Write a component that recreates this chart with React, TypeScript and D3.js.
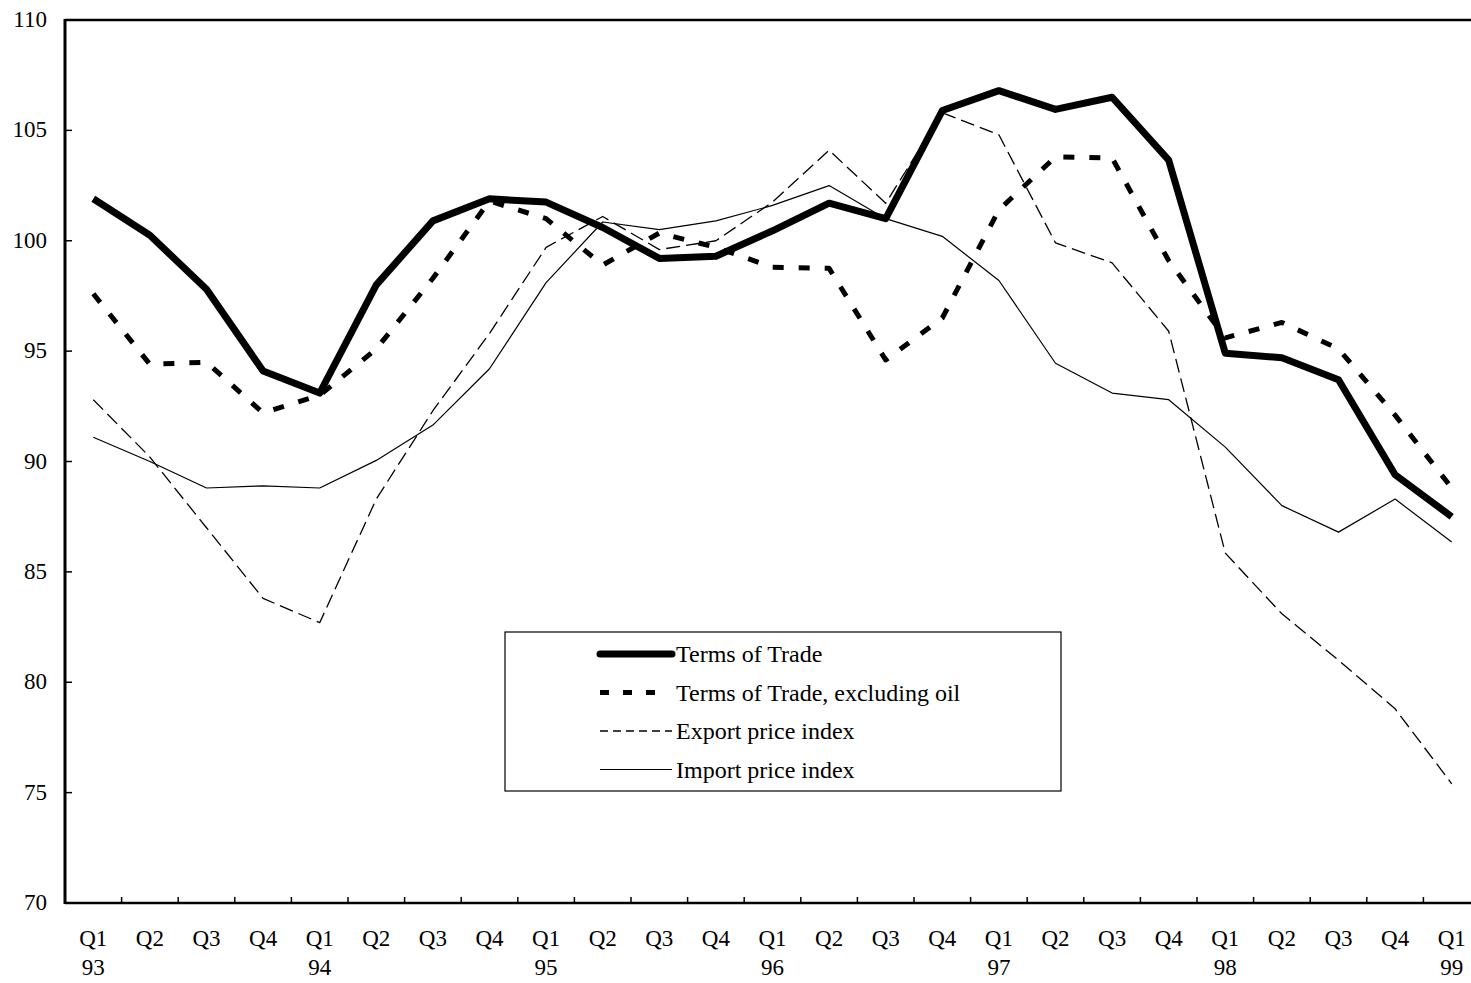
import React from 'react';
import * as d3 from 'd3';

const quarters = ['Q1', 'Q2', 'Q3', 'Q4', 'Q1', 'Q2', 'Q3', 'Q4', 'Q1', 'Q2', 'Q3', 'Q4', 'Q1', 'Q2', 'Q3', 'Q4', 'Q1', 'Q2', 'Q3', 'Q4', 'Q1', 'Q2', 'Q3', 'Q4', 'Q1'];
const years = ['93', '', '', '', '94', '', '', '', '95', '', '', '', '96', '', '', '', '97', '', '', '', '98', '', '', '', '99'];

const termsOfTrade = [101.9, 100.25, 97.8, 94.1, 93.1, 98.0, 100.9, 101.9, 101.75, 100.6, 99.2, 99.3, 100.45, 101.7, 101.0, 105.9, 106.8, 105.95, 106.5, 103.65, 94.9, 94.7, 93.7, 89.4, 87.5];
const termsExOil = [97.6, 94.4, 94.5, 92.2, 93.0, 95.1, 98.3, 101.8, 101.0, 98.9, 100.35, 99.7, 98.8, 98.75, 94.6, 96.5, 101.4, 103.8, 103.75, 99.1, 95.6, 96.3, 95.1, 92.1, 88.8];
const exportIndex = [92.8, 90.2, 87.0, 83.8, 82.7, 88.3, 92.3, 95.8, 99.7, 101.1, 99.6, 100.0, 101.75, 104.1, 101.7, 105.8, 104.8, 99.9, 99.0, 95.9, 85.85, 83.1, 81.0, 78.8, 75.4];
const importIndex = [91.1, 90.0, 88.8, 88.9, 88.8, 90.05, 91.65, 94.2, 98.1, 100.85, 100.5, 100.9, 101.6, 102.5, 101.0, 100.2, 98.2, 94.45, 93.1, 92.8, 90.65, 88.0, 86.8, 88.3, 86.35];
const yTicks = [70, 75, 80, 85, 90, 95, 100, 105, 110];

const legendItems = [
  { label: 'Terms of Trade', width: 7, dash: 'none', x2: 672 },
  { label: 'Terms of Trade, excluding oil', width: 5, dash: '9,14', x2: 658 },
  { label: 'Export price index', width: 1.3, dash: '8,5', x2: 672 },
  { label: 'Import price index', width: 1.2, dash: 'none', x2: 672 },
];

const W = 1471;
const H = 983;
const left = 65;
const top = 20;
const bottom = 903;
const right = 1480;

export default function App() {
  const idx = quarters.map((_, i) => i);
  const x = d3.scaleBand<number>().domain(idx).range([left, right]).padding(0);
  const bw = x.bandwidth();
  const cx = (i: number) => (x(i) as number) + bw / 2;
  const y = d3.scaleLinear().domain([70, 110]).range([bottom, top]);
  const line = d3
    .line<number>()
    .x((_, i) => cx(i))
    .y((d) => y(d));

  const font = '"Liberation Serif", "Times New Roman", serif';

  const series = [
    { data: importIndex, width: 1.2, dash: 'none' },
    { data: exportIndex, width: 1.3, dash: '14,6' },
    { data: termsExOil, width: 5, dash: '11,15' },
    { data: termsOfTrade, width: 7, dash: 'none' },
  ];

  const lx = 505;
  const ly = 632;
  const lw = 556;
  const lh = 159;

  return (
    <svg width={W} height={H} style={{ position: 'absolute', left: 0, top: 0, background: '#fff' }} fontFamily={font}>
      <rect x={0} y={0} width={W} height={H} fill="#fff" />
      {/* frame */}
      <line x1={left} x2={W} y1={top} y2={top} stroke="#000" strokeWidth={2.5} />
      <line x1={left} x2={left} y1={top - 1} y2={bottom + 1} stroke="#000" strokeWidth={3} />
      <line x1={left} x2={W} y1={bottom} y2={bottom} stroke="#000" strokeWidth={2.5} />

      {/* y axis */}
      {yTicks.map((t) => (
        <g key={t}>
          <line x1={left} x2={left + 7} y1={y(t)} y2={y(t)} stroke="#000" strokeWidth={1.5} />
          <text x={47} y={y(t) + 7} textAnchor="end" fontSize={23}>
            {t}
          </text>
        </g>
      ))}

      {/* x axis */}
      {idx.slice(1).map((i) => (
        <line key={i} x1={x(i) as number} x2={x(i) as number} y1={bottom} y2={bottom - 6} stroke="#000" strokeWidth={1.5} />
      ))}
      {quarters.map((q, i) => (
        <text key={'q' + i} x={cx(i)} y={946} textAnchor="middle" fontSize={23}>
          {q}
        </text>
      ))}
      {years.map((yr, i) =>
        yr ? (
          <text key={'y' + i} x={cx(i)} y={975} textAnchor="middle" fontSize={23}>
            {yr}
          </text>
        ) : null
      )}

      {/* series */}
      {series.map((s, i) => (
        <path
          key={i}
          d={line(s.data) || ''}
          fill="none"
          stroke="#000"
          strokeWidth={s.width}
          strokeDasharray={s.dash}
          strokeLinejoin="round"
        />
      ))}

      {/* legend */}
      <rect x={lx} y={ly} width={lw} height={lh} fill="#fff" stroke="#000" strokeWidth={1.2} />
      {legendItems.map((it, i) => {
        const ry = ly + 22 + i * 38.5;
        return (
          <g key={it.label}>
            <line
              x1={600}
              x2={it.x2}
              y1={ry}
              y2={ry}
              stroke="#000"
              strokeWidth={it.width}
              strokeDasharray={it.dash}
              strokeLinecap={i === 0 ? 'round' : 'butt'}
            />
            <text x={676} y={ry + 8} fontSize={24}>
              {it.label}
            </text>
          </g>
        );
      })}
    </svg>
  );
}
